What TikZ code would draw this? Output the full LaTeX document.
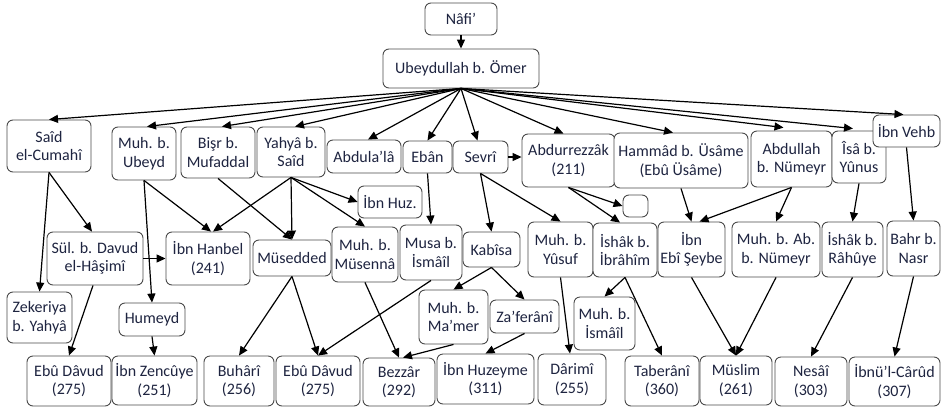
\documentclass[tikz,border=0pt]{standalone}
\usepackage{fontspec}
\setmainfont{Carlito}
\usetikzlibrary{arrows.meta}
\definecolor{txt}{HTML}{1E2440}
\definecolor{bord}{HTML}{4A4A4A}
\tikzset{
  box/.style={draw=bord, line width=0.9pt, rounded corners=6pt, fill=white,
    align=center, inner sep=1pt, text=txt, font=\fontsize{16}{18.5}\selectfont},
  arr/.style={draw=black, line width=1.2pt, -{Triangle[length=9pt,width=8pt]}}
}
\newcommand\bx[6]{\node[box, minimum width=#4pt-#2pt, minimum height=#5pt-#3pt]
  (#1) at ({(#2+#4)/2},{(#3+#5)/2}) {#6};}
\begin{document}
\begin{tikzpicture}[x=1pt,y=-1pt]
\useasboundingbox[fill=white] (0,0) rectangle (942,410);
% boxes
\bx{nafi}{425}{3}{497}{35}{Nâfi’}
\bx{ubey}{383}{49}{539}{88}{Ubeydullah b. Ömer}
\bx{said}{7}{120}{91}{172}{Saîd\\el-Cumahî}
\bx{mubeyd}{112}{127}{176}{180}{Muh. b.\\Ubeyd}
\bx{bisr}{181}{127}{255}{178}{Bişr b.\\Mufaddal}
\bx{yahya}{257}{127}{325}{177}{Yahyâ b.\\Saîd}
\bx{abdula}{327}{140}{401}{173}{Abdula’lâ}
\bx{eban}{403}{141}{452}{173}{Ebân}
\bx{sevri}{453}{141}{508}{173}{Sevrî}
\bx{abdurr}{522}{134}{615}{187}{Abdurrezzâk\\(211)}
\bx{hammad}{614}{133}{748}{188}{Hammâd b. Üsâme\\(Ebû Üsâme)}
\bx{abdnum}{751}{131}{832}{187}{Abdullah\\b. Nümeyr}
\bx{isa}{832}{131}{886}{183}{Îsâ b.\\Yûnus}
\bx{vehb}{873}{115}{940}{147}{İbn Vehb}
\bx{sul}{47}{232}{143}{285}{Sül. b. Davud\\el-Hâşimî}
\bx{hanbel}{166}{232}{250}{285}{İbn Hanbel\\(241)}
\bx{mused}{253}{240}{331}{276}{Müsedded}
\bx{ibnhuz}{358}{186}{422}{218}{İbn Huz.}
\bx{musenna}{332}{227}{398}{282}{Muh. b.\\Müsennâ}
\bx{musa}{400}{225}{462}{280}{Musa b.\\İsmâîl}
\bx{kabisa}{463}{232}{520}{267}{Kabîsa}
\bx{myusuf}{528}{222}{593}{277}{Muh. b.\\Yûsuf}
\bx{ishak}{593}{223}{657}{277}{İshâk b.\\İbrâhîm}
\bx{empty}{623}{195}{648}{217}{}
\bx{seybe}{658}{222}{725}{277}{İbn\\Ebî Şeybe}
\bx{mabnum}{732}{222}{820}{277}{Muh. b. Ab.\\b. Nümeyr}
\bx{rahuye}{822}{222}{883}{277}{İshâk b.\\Râhûye}
\bx{bahr}{887}{221}{940}{276}{Bahr b.\\Nasr}
\bx{zek}{7}{292}{72}{343}{Zekeriya\\b. Yahyâ}
\bx{humeyd}{119}{303}{185}{336}{Humeyd}
\bx{mamer}{419}{290}{488}{344}{Muh. b.\\Ma’mer}
\bx{zaf}{490}{300}{559}{333}{Za’ferânî}
\bx{mismail}{574}{297}{635}{350}{Muh. b.\\İsmâîl}
\bx{ebudav1}{27}{356}{111}{406}{Ebû Dâvud\\(275)}
\bx{zencuye}{112}{356}{197}{405}{İbn Zencûye\\(251)}
\bx{buhari}{204}{356}{274}{406}{Buhârî\\(256)}
\bx{ebudav2}{276}{356}{360}{406}{Ebû Dâvud\\(275)}
\bx{bezzar}{363}{358}{435}{406}{Bezzâr\\(292)}
\bx{huzeyme}{437}{354}{534}{404}{İbn Huzeyme\\(311)}
\bx{darimi}{538}{354}{606}{405}{Dârimî\\(255)}
\bx{taberani}{625}{356}{699}{406}{Taberânî\\(360)}
\bx{muslim}{700}{356}{772}{405}{Müslim\\(261)}
\bx{nesai}{775}{357}{847}{406}{Nesâî\\(303)}
\bx{carud}{849}{357}{940}{406}{İbnü’l-Cârûd\\(307)}
% arrows
\draw[arr] (nafi) -- (ubey);
\draw[arr] (ubey.south) -- (said.north);
\draw[arr] (ubey.south) -- ([xshift=3pt]mubeyd.north);
\draw[arr] (ubey.south) -- ([xshift=4pt]bisr.north);
\draw[arr] (ubey.south) -- ([xshift=4pt]yahya.north);
\draw[arr] (ubey.south) -- ([xshift=4pt]abdula.north);
\draw[arr] (ubey.south) -- (eban.north);
\draw[arr] (ubey.south) -- ([xshift=-3pt]sevri.north);
\draw[arr] (ubey.south) -- ([xshift=-5pt]abdurr.north);
\draw[arr] (ubey.south) -- ([xshift=-8pt]hammad.north);
\draw[arr] (ubey.south) -- ([xshift=-8pt,yshift=3pt]abdnum.north);
\draw[arr] (ubey.south) -- ([xshift=-6pt,yshift=2pt]isa.north);
\draw[arr] (ubey.south) -- ([xshift=-3pt]vehb.north);
\draw[arr] (said.south) -- ([xshift=-3pt]sul.north);
\draw[arr] (said.south) -- (zek.north);
\draw[arr] (sul.east) -- (hanbel.west);
\draw[arr] ([xshift=-2pt]sul.south) -- (ebudav1.north);
\draw[arr] (mubeyd.south) -- ([xshift=3pt]hanbel.north);
\draw[arr] (mubeyd.south) -- (humeyd.north);
\draw[arr] (humeyd.south) -- (zencuye.north);
\draw[arr] (bisr.south) -- (mused.north);
\draw[arr] (yahya.south) -- ([xshift=5pt]hanbel.north);
\draw[arr] (yahya.south) -- (mused.north);
\draw[arr] (yahya.south) -- (ibnhuz.west);
\draw[arr] (yahya.south) -- (musenna.north);
\draw[arr] (eban.south) -- (musa.north);
\draw[arr] (sevri.east) -- (sevri.east -| abdurr.west);
\draw[arr] (sevri.south) -- (kabisa.north);
\draw[arr] (sevri.south) -- (myusuf.north);
\draw[arr] (abdurr.south) -- (empty.west);
\draw[arr] (abdurr.south) -- ([xshift=-5pt]ishak.north);
\draw[arr] (hammad.south) -- (seybe.north);
\draw[arr] (abdnum.south) -- ([xshift=8pt]seybe.north);
\draw[arr] (abdnum.south) -- (mabnum.north);
\draw[arr] (isa.south) -- (rahuye.north);
\draw[arr] (vehb.south) -- (bahr.north);
\draw[arr] (kabisa.south) -- (mamer.north);
\draw[arr] (kabisa.south) -- (zaf.north);
\draw[arr] (musa.south) -- (ebudav2.north);
\draw[arr] (mused.south) -- (buhari.north);
\draw[arr] (mused.south) -- (ebudav2.north);
\draw[arr] (musenna.south) -- (bezzar.north);
\draw[arr] (mamer.south) -- ([xshift=4pt]bezzar.north);
\draw[arr] (zaf.south) -- (huzeyme.north);
\draw[arr] (myusuf.south) -- ([xshift=-2pt]darimi.north);
\draw[arr] (ishak.south) -- (mismail.north);
\draw[arr] (ishak.south) -- (taberani.north);
\draw[arr] (seybe.south) -- (muslim.north);
\draw[arr] (mabnum.south) -- (muslim.north);
\draw[arr] (rahuye.south) -- (nesai.north);
\draw[arr] (bahr.south) -- (carud.north);
\end{tikzpicture}
\end{document}
